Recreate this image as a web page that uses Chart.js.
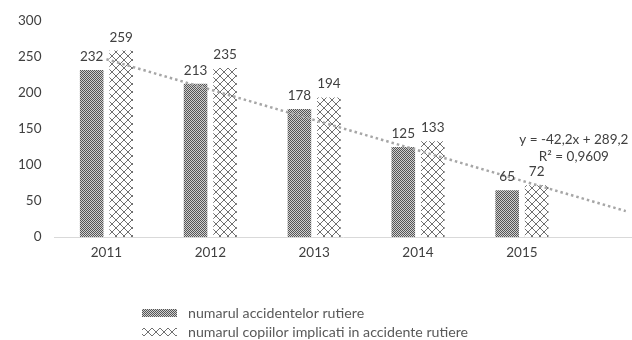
<!DOCTYPE html>
<html>
<head>
<meta charset="utf-8">
<script src="https://cdn.jsdelivr.net/npm/chart.js@4.4.0/dist/chart.umd.min.js"></script>
<style>
html, body { margin: 0; padding: 0; background: #fff; }
#wrap { width: 632px; height: 340px; }
</style>
</head>
<body>
<div id="wrap"><canvas id="chart" width="632" height="340"></canvas></div>
<script>
const years = ['2011', '2012', '2013', '2014', '2015'];
const accidents = [232, 213, 178, 125, 65];
const children = [259, 235, 194, 133, 72];
// linear trendline of the accidents, read at x = 1 and at the forecast end x = 6
const trendX = [1, 6];
const trendY = [247, 36];
const yTicks = [0, 50, 100, 150, 200, 250, 300];
const seriesNames = ['numarul accidentelor rutiere', 'numarul copiilor implicati in accidente rutiere'];
const trendText = ['y = -42,2x + 289,2', 'R² = 0,9609'];

const FONT = 'Lato, "Liberation Sans", sans-serif';
const canvas = document.getElementById('chart');
const mainCtx = canvas.getContext('2d');

// small dark checker, like the excel "dotted" fill
function densePattern() {
    const c = document.createElement('canvas');
    c.width = 4; c.height = 4;
    const g = c.getContext('2d');
    g.fillStyle = '#d0d0d0';
    g.fillRect(0, 0, 4, 4);
    g.fillStyle = '#555555';
    for (let y = 0; y < 4; y++) {
        for (let x = 0; x < 4; x++) {
            if ((x + y) % 2 === 0) g.fillRect(x, y, 1, 1);
        }
    }
    return mainCtx.createPattern(c, 'repeat');
}

// open diagonal cross hatch
function crossPattern() {
    const c = document.createElement('canvas');
    c.width = 8; c.height = 8;
    const g = c.getContext('2d');
    g.fillStyle = '#ffffff';
    g.fillRect(0, 0, 8, 8);
    g.fillStyle = '#707070';
    for (let i = 0; i < 8; i++) {
        g.fillRect(i, i, 1, 1);
        g.fillRect(7 - i, i, 1, 1);
    }
    return mainCtx.createPattern(c, 'repeat');
}

const fills = [densePattern(), crossPattern()];

const barLabels = {
    id: 'barLabels',
    afterDatasetsDraw(chart) {
        const ctx = chart.ctx;
        ctx.save();
        ctx.font = '13.5px ' + FONT;
        ctx.fillStyle = '#404040';
        ctx.textAlign = 'center';
        ctx.textBaseline = 'alphabetic';
        chart.data.datasets.forEach((ds, di) => {
            if (ds.type === 'line') return;
            chart.getDatasetMeta(di).data.forEach((bar, i) => {
                ctx.fillText(ds.data[i].y, bar.x, bar.y - 9);
            });
        });
        ctx.restore();
    }
};

const extras = {
    id: 'extras',
    afterDraw(chart) {
        const ctx = chart.ctx;
        const xs = chart.scales.x, ys = chart.scales.y;
        ctx.save();
        // trendline equation
        ctx.font = '13.5px ' + FONT;
        ctx.fillStyle = '#404040';
        ctx.textAlign = 'center';
        ctx.textBaseline = 'middle';
        ctx.fillText(trendText[0], xs.getPixelForValue(5.5), ys.getPixelForValue(135));
        ctx.fillText(trendText[1], xs.getPixelForValue(5.5), ys.getPixelForValue(111));

        // legend, one series per row
        ctx.font = '14.2px ' + FONT;
        ctx.textAlign = 'left';
        const rows = [313, 332];
        seriesNames.forEach((name, i) => {
            ctx.fillStyle = fills[i];
            ctx.fillRect(142, rows[i] - 4, 35, 8);
            ctx.fillStyle = '#595959';
            ctx.fillText(name, 188, rows[i]);
        });
        ctx.restore();
    }
};

new Chart(canvas, {
    data: {
        datasets: [
            {
                type: 'line',
                label: 'trend',
                data: trendX.map((x, i) => ({ x: x, y: trendY[i] })),
                borderColor: '#a6a6a6',
                borderWidth: 2.5,
                borderDash: [2.5, 3],
                pointRadius: 0,
                fill: false,
                order: 0
            },
            {
                type: 'bar',
                label: seriesNames[0],
                data: accidents.map((v, i) => ({ x: i + 1, y: v })),
                backgroundColor: fills[0],
                borderWidth: 0,
                categoryPercentage: 0.568,
                barPercentage: 0.8,
                order: 1
            },
            {
                type: 'bar',
                label: seriesNames[1],
                data: children.map((v, i) => ({ x: i + 1, y: v })),
                backgroundColor: fills[1],
                borderWidth: 0,
                categoryPercentage: 0.568,
                barPercentage: 0.8,
                order: 1
            }
        ]
    },
    options: {
        responsive: false,
        animation: false,
        layout: { padding: { top: 21, bottom: 69, left: 0, right: 0 } },
        plugins: {
            legend: { display: false },
            tooltip: { enabled: false }
        },
        scales: {
            x: {
                type: 'linear',
                offset: false,
                min: 0.5,
                max: 6.06,
                grid: { display: false, drawTicks: false },
                border: { display: true, color: '#d9d9d9', width: 1 },
                afterBuildTicks: (scale) => {
                    scale.ticks = years.map((y, i) => ({ value: i + 1 }));
                },
                afterFit: (scale) => { scale.height = 34; },
                ticks: {
                    padding: 8,
                    maxRotation: 0,
                    autoSkip: false,
                    color: '#404040',
                    font: { family: FONT, size: 13.5 },
                    callback: (v) => years[Math.round(v) - 1] || ''
                }
            },
            y: {
                min: 0,
                max: 300,
                grid: { display: false, drawTicks: false },
                border: { display: false },
                afterBuildTicks: (scale) => {
                    scale.ticks = yTicks.map(v => ({ value: v }));
                },
                afterFit: (scale) => { scale.width = 54.5; },
                ticks: {
                    padding: 13,
                    color: '#404040',
                    font: { family: FONT, size: 13.5 }
                }
            }
        }
    },
    plugins: [barLabels, extras]
});
</script>
</body>
</html>
